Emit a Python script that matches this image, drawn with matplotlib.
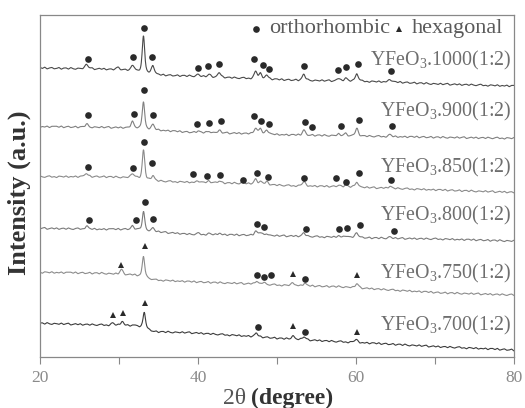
import numpy as np
import matplotlib
matplotlib.use("Agg")
import matplotlib.pyplot as plt

plt.rcParams['font.family'] = ['Liberation Serif', 'DejaVu Serif']
plt.rcParams['mathtext.fontset'] = 'custom'
plt.rcParams['mathtext.rm'] = 'Liberation Serif'
plt.rcParams['mathtext.it'] = 'Liberation Serif:italic'
plt.rcParams['mathtext.bf'] = 'Liberation Serif:bold'

# background anchor positions (2theta, degree), shared by all patterns
bg_x = [20, 28, 32, 34.5, 39, 45, 51.5, 58, 64.5, 70.5, 80]

# orthorhombic reflections seen in the 800-1000 samples
ortho_pos = [25.9, 31.7, 33.1, 34.3, 40.0, 41.4, 42.7, 47.3, 47.9, 48.7, 53.4, 57.8, 58.7, 60.1, 64.3]

# ---- YFeO3.1000 ----
bg_1000 = [288.5, 287.5, 285.5, 281.5, 280.5, 278.5, 276.5, 275.5, 274.5, 272.5, 270.5]
pk_1000_x = ortho_pos + [29.9]
pk_1000_h = [4.5, 6, 37, 9, 2, 2, 4.5, 7, 5, 4, 6, 2.5, 3, 8, 2.5, 3]
circ_1000_x = [26.04, 31.81, 33.16, 34.22, 40.04, 41.27, 42.70, 47.13, 48.19, 49.03, 53.42, 57.76, 58.77, 60.29, 64.43]
circ_1000_y = [297.8, 299.2, 328.8, 299.2, 288.8, 290.2, 292.8, 297.2, 291.8, 287.8, 290.2, 286.8, 289.2, 292.2, 285.8]

# ---- YFeO3.900 ----
bg_900 = [229.8, 229.2, 228.5, 226.5, 224.2, 223.2, 221.5, 220.8, 219.8, 219.2, 218.2]
pk_900_x = ortho_pos
pk_900_h = [3, 6, 27, 5, 1.5, 1.5, 2.5, 6, 4.5, 4.5, 5, 1.5, 2, 7.5, 2]
circ_900_x = [33.16, 26.11, 31.94, 34.34, 39.84, 41.39, 42.91, 47.09, 47.97, 49.03, 53.54, 54.43, 58.06, 60.42, 64.56]
circ_900_y = [266.5, 241.5, 242.2, 241.5, 232.2, 233.5, 235.5, 240.2, 235.5, 232.2, 234.8, 229.2, 230.2, 236.8, 230.8]

# ---- YFeO3.850 ----
bg_850 = [179.8, 179.8, 178.8, 175.5, 174.2, 173.2, 170.8, 169.8, 168.2, 166.5, 164.2]
pk_850_x = ortho_pos + [45.7]
pk_850_h = [3, 4, 29, 5, 1.5, 1.5, 2, 4.5, 3, 3, 4.5, 1.5, 2, 5.5, 2, 1.5]
circ_850_x = [33.16, 26.04, 31.77, 34.22, 39.41, 41.10, 42.82, 45.73, 47.51, 48.90, 53.46, 57.43, 58.77, 60.34, 64.39]
circ_850_y = [214.8, 189.2, 188.5, 193.8, 182.2, 180.2, 181.2, 176.5, 183.5, 179.8, 178.5, 178.2, 174.5, 183.5, 176.2]

# ---- YFeO3.800 ----
bg_800 = [128.2, 127.2, 127.2, 124.8, 122.2, 121.5, 120.5, 119.2, 118.2, 117.5, 115.5]
pk_800_x = ortho_pos
pk_800_h = [3, 3, 18.5, 3.5, 1, 1, 1.5, 4, 3, 2, 3.5, 1.5, 1.5, 5, 1.5]
circ_800_x = [33.25, 26.16, 32.11, 34.30, 47.51, 48.35, 53.67, 57.89, 58.82, 60.51, 64.81]
circ_800_y = [154.2, 136.2, 136.2, 137.8, 132.8, 129.5, 127.8, 127.8, 128.5, 131.5, 125.8]

# ---- YFeO3.750 ----
bg_750 = [84.2, 83.2, 81.5, 76.5, 74.8, 73.2, 71.0, 69.8, 66.5, 63.8, 61.5]
pk_750_x = [30.3, 33.1, 47.4, 48.3, 52.0, 53.5, 60.1]
pk_750_h = [4.5, 21, 3, 2, 3, 2.5, 4]
circ_750_x = [47.43, 48.35, 49.20, 53.54]
circ_750_y = [81.2, 79.2, 81.2, 77.5]
tri_750_x = [33.25, 30.29, 52.06, 60.13]
tri_750_y = [110.8, 91.8, 82.5, 81.2]

# ---- YFeO3.700 ----
bg_700 = [33.2, 31.5, 30.8, 24.8, 23.8, 21.0, 17.5, 14.8, 12.3, 9.8, 6.5]
pk_700_x = [29.2, 30.4, 33.2, 47.4, 52.0, 53.4, 60.0]
pk_700_h = [2, 4, 17, 3.5, 3.5, 3, 3]
circ_700_x = [47.56, 53.58]
circ_700_y = [29.2, 24.8]
tri_700_x = [29.28, 30.54, 33.33, 52.06, 60.09]
tri_700_y = [41.8, 43.2, 53.8, 30.8, 24.2]

labels = ['YFeO$_3$.1000(1:2)', 'YFeO$_3$.900(1:2)', 'YFeO$_3$.850(1:2)',
          'YFeO$_3$.800(1:2)', 'YFeO$_3$.750(1:2)', 'YFeO$_3$.700(1:2)']
label_y = [291.5, 239.8, 184.2, 136.5, 78.2, 26.5]

# hand-read background texture (a.u.), reused along each trace
ripple = [0.6, -0.4, 0.9, -0.8, 0.2, 0.7, -0.6, -0.2, 0.8, -0.9, 0.3, 0.5, -0.7, 0.9, -0.3,
          -0.8, 0.4, 0.1, -0.5, 0.8, -0.6, 0.3, 0.9, -0.9, -0.1, 0.6, -0.4, 0.7, -0.8, 0.2,
          0.5, -0.6, 0.8, -0.2, -0.7, 0.4, 0.9, -0.5, 0.1, -0.9, 0.6, 0.3, -0.4, 0.8, -0.7,
          0.2, -0.3, 0.7, -0.8, 0.5]


def pattern(bg, pk_x, pk_h, shift):
    x = np.linspace(20, 80, 1400)
    y = np.interp(x, bg_x, bg)
    for p, h in zip(pk_x, pk_h):
        w = 0.18 if h > 10 else 0.22
        lor = 1 / (1 + ((x - p) / w) ** 2)
        gau = np.exp(-np.log(2) * ((x - p) / w) ** 2)
        y += h * (0.5 * lor + 0.5 * gau)
    rx = 20 + 0.3 * np.arange(201)
    ry = np.roll(np.tile(ripple, 5)[:201], shift)
    y += 1.0 * np.interp(x, rx, ry)
    return x, y


fig = plt.figure(figsize=(5.25, 4.08), dpi=100)
ax = fig.add_axes([40 / 525, (408 - 356.5) / 408, 474 / 525, 342 / 408])

traces = [
    (bg_1000, pk_1000_x, pk_1000_h, '#4a4a4a', 0),
    (bg_900, pk_900_x, pk_900_h, '#808080', 7),
    (bg_850, pk_850_x, pk_850_h, '#8a8a8a', 19),
    (bg_800, pk_800_x, pk_800_h, '#7a7a7a', 31),
    (bg_750, pk_750_x, pk_750_h, '#8c8c8c', 13),
    (bg_700, pk_700_x, pk_700_h, '#3c3c3c', 41),
]
for bg, px, ph, col, sh in traces:
    x, y = pattern(bg, px, ph, sh)
    ax.plot(x, y, color=col, lw=0.8)

mk = dict(color='#2a2a2a', ls='none', ms=4.8, mew=0)
for cx, cy in [(circ_1000_x, circ_1000_y), (circ_900_x, circ_900_y), (circ_850_x, circ_850_y),
               (circ_800_x, circ_800_y), (circ_750_x, circ_750_y), (circ_700_x, circ_700_y)]:
    ax.plot(cx, cy, marker='o', **mk)
for tx, ty in [(tri_750_x, tri_750_y), (tri_700_x, tri_700_y)]:
    ax.plot(tx, ty, marker='^', **mk)

for lab, ly in zip(labels, label_y):
    ax.text(79.75, ly, lab, ha='right', va='baseline', fontsize=14.4, color='#6e6e6e')

# legend drawn inside the frame
ax.plot([47.34], [327.5], marker='o', **mk)
ax.text(49.0, 323.2, 'orthorhombic', ha='left', va='baseline', fontsize=16, color='#5a5a5a')
ax.plot([65.44], [327.5], marker='^', **mk)
ax.text(67.0, 323.2, 'hexagonal', ha='left', va='baseline', fontsize=16, color='#5a5a5a')

ax.set_xlim(20, 80)
ax.set_ylim(0, 342)
ax.set_xticks([20, 40, 60, 80])
ax.set_xticks([30, 50, 70], minor=True)
ax.set_yticks([])
ax.tick_params(axis='x', which='both', direction='out', length=5, width=0.8,
               color='#888888', labelcolor='#8a8a8a', labelsize=12.5, pad=5)
for s in ax.spines.values():
    s.set_color('#888888')
    s.set_linewidth(0.9)

fig.text(246 / 525, 4 / 408, '2θ', ha='right', va='baseline', fontsize=17, color='#555555')
fig.text(251 / 525, 4 / 408, '(degree)', ha='left', va='baseline', fontsize=17,
         fontweight='bold', color='#333333')
fig.text(19 / 525, (408 - 193) / 408, 'Intensity (a.u.)', rotation=90, ha='center', va='center',
         fontsize=19, fontweight='bold', color='#333333')

fig.savefig('out.png', dpi=100)
